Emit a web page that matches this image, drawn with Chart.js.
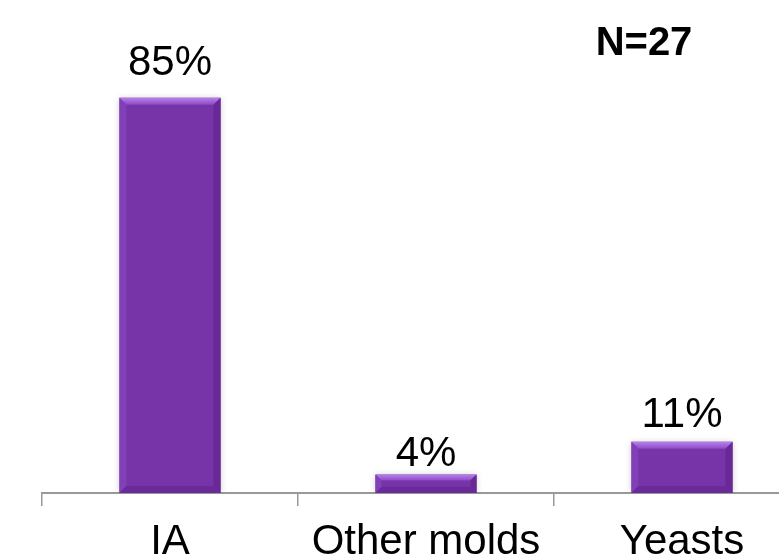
<!DOCTYPE html>
<html>
<head>
<meta charset="utf-8">
<script src="https://cdn.jsdelivr.net/npm/chart.js@4/dist/chart.umd.min.js"></script>
<style>
  html, body { margin: 0; padding: 0; background: #fff; overflow: hidden; width: 779px; height: 559px; }
  #wrap { position: absolute; left: 0; top: 0; width: 830px; height: 559px; }
</style>
</head>
<body>
<div id="wrap"><canvas id="c" width="830" height="559"></canvas></div>
<script>
// Distribution of isolates
const categories = ['IA', 'Other molds', 'Yeasts'];
const shares = [85, 4, 11];           // percent of cases
const valueLabels = ['85%', '4%', '11%'];
const sampleNote = 'N=27';

const FONT = '"Liberation Sans", Arial, Helvetica, sans-serif';

// Soft drop shadow behind the bars
const shadowPlugin = {
  id: 'barShadow',
  beforeDatasetsDraw(chart) {
    chart.ctx.save();
    chart.ctx.shadowColor = 'rgba(0,0,0,0.18)';
    chart.ctx.shadowBlur = 6;
  },
  afterDatasetsDraw(chart) {
    chart.ctx.restore();
  }
};

// Bevelled bar faces: lighter top/left edges, darker right/bottom edges
const bevelPlugin = {
  id: 'bevel',
  afterDatasetsDraw(chart) {
    const ctx = chart.ctx;
    chart.getDatasetMeta(0).data.forEach(bar => {
      const L = bar.x - bar.width / 2, R = bar.x + bar.width / 2;
      const T = bar.y, B = bar.base;
      const b = Math.min(7, (B - T) / 3);
      ctx.save();
      const poly = (pts, fill) => {
        ctx.beginPath();
        ctx.moveTo(pts[0][0], pts[0][1]);
        for (let i = 1; i < pts.length; i++) ctx.lineTo(pts[i][0], pts[i][1]);
        ctx.closePath();
        ctx.fillStyle = fill;
        ctx.fill();
      };
      const gTop = ctx.createLinearGradient(0, T, 0, T + b);
      gTop.addColorStop(0, '#b882e8');
      gTop.addColorStop(1, '#8c4ac6');
      poly([[L, T], [R, T], [R - b, T + b], [L + b, T + b]], gTop);
      poly([[L, T], [L + b, T + b], [L + b, B - b], [L, B]], '#8140b8');
      poly([[R, T], [R, B], [R - b, B - b], [R - b, T + b]], '#682896');
      poly([[L, B], [L + b, B - b], [R - b, B - b], [R, B]], '#6b2a9a');
      ctx.restore();
    });
  }
};

// Value labels above each bar and the sample-size note
const labelGap = [23, 8, 15];
const labelPlugin = {
  id: 'valueLabels',
  afterDraw(chart) {
    const ctx = chart.ctx;
    ctx.save();
    ctx.fillStyle = '#000';
    ctx.textAlign = 'center';
    ctx.textBaseline = 'alphabetic';
    ctx.font = '42px ' + FONT;
    chart.getDatasetMeta(0).data.forEach((bar, i) => {
      ctx.fillText(valueLabels[i], bar.x, bar.y - labelGap[i]);
    });
    ctx.font = 'bold 40px ' + FONT;
    ctx.fillText(sampleNote, 644, 55);
    ctx.restore();
  }
};

new Chart(document.getElementById('c'), {
  type: 'bar',
  data: {
    labels: categories,
    datasets: [{
      data: shares,
      backgroundColor: '#7634a8',
      borderWidth: 0,
      categoryPercentage: 1,
      barPercentage: 0.395
    }]
  },
  options: {
    responsive: false,
    animation: false,
    layout: { padding: { left: 42, right: 20, top: 0, bottom: 0 } },
    plugins: { legend: { display: false }, tooltip: { enabled: false }, title: { display: false } },
    scales: {
      x: {
        offset: true,
        grid: { display: true, offset: true, drawOnChartArea: false, color: '#999999', tickLength: 13, lineWidth: 1.5 },
        border: { display: true, color: '#999999', width: 2 },
        ticks: { color: '#000', font: { family: FONT, size: 42 }, padding: 11, maxRotation: 0, autoSkip: false },
        afterFit(scale) { scale.height = 66; }
      },
      y: {
        display: false,
        min: 0,
        max: 106
      }
    }
  },
  plugins: [shadowPlugin, bevelPlugin, labelPlugin]
});
</script>
</body>
</html>
